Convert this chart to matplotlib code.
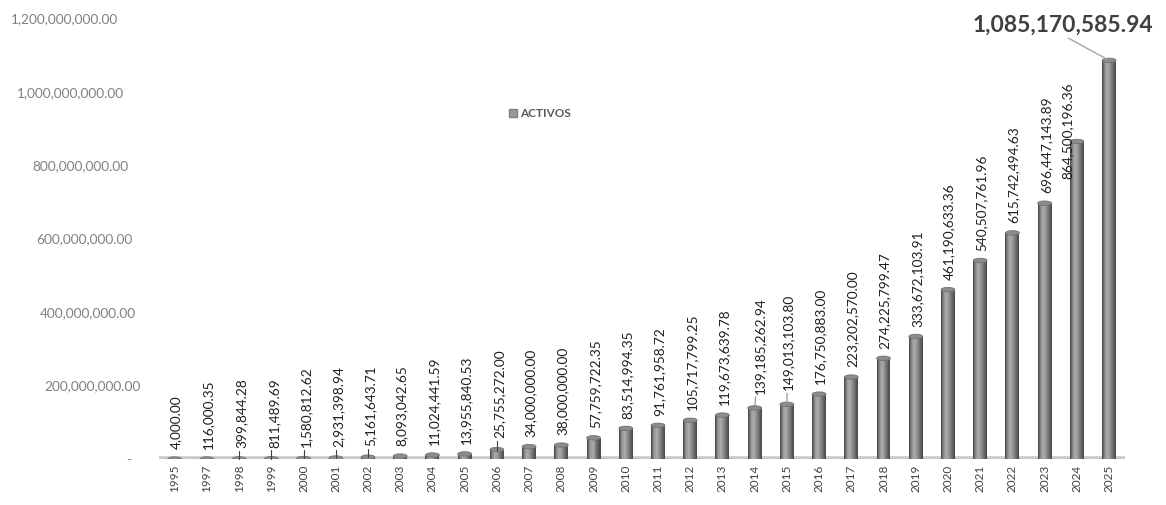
import numpy as np
import matplotlib.pyplot as plt
from matplotlib.patches import Ellipse
from matplotlib.transforms import ScaledTranslation

years = [1995, 1997, 1998, 1999, 2000, 2001, 2002, 2003, 2004, 2005,
         2006, 2007, 2008, 2009, 2010, 2011, 2012, 2013, 2014, 2015,
         2016, 2017, 2018, 2019, 2020, 2021, 2022, 2023, 2024, 2025]
activos = [4000.00, 116000.35, 399844.28, 811489.69, 1580812.62, 2931398.94,
           5161643.71, 8093042.65, 11024441.59, 13955840.53, 25755272.00,
           34000000.00, 38000000.00, 57759722.35, 83514994.35, 91761958.72,
           105717799.25, 119673639.78, 139185262.94, 149013103.80, 176750883.00,
           223202570.00, 274225799.47, 333672103.91, 461190633.36, 540507761.96,
           615742494.63, 696447143.89, 864500196.36, 1085170585.94]
serie = "ACTIVOS"
yticks = [0, 200000000, 400000000, 600000000, 800000000, 1000000000, 1200000000]

plt.rcParams['font.family'] = ['Lato', 'DejaVu Sans']

fig = plt.figure(figsize=(11.66, 5.05), dpi=100)
ax = fig.add_axes([0.136, 0.091, 0.829, 0.873])

x = np.arange(len(years))
vals = np.array(activos)
w = 0.43

# cilindros: franjas verticales con degradado
shade = [0.30, 0.42, 0.52, 0.60, 0.64, 0.66, 0.64, 0.60, 0.55, 0.50, 0.45, 0.40, 0.35, 0.30]
nstrip = len(shade)
for k in range(nstrip):
    off = -w / 2 + (k + 0.5) * w / nstrip
    ax.bar(x + off, vals, width=w / nstrip + 0.002, color=str(shade[k]), linewidth=0, zorder=3)

# tapas elipticas
cap_h = 12e6
for xi, v in zip(x, vals):
    ax.add_patch(Ellipse((xi, v), w, cap_h, facecolor='0.55', edgecolor='0.45',
                         linewidth=0.6, zorder=4))
    ax.add_patch(Ellipse((xi, 0), w, cap_h, facecolor='0.45', edgecolor='none', zorder=2))

# piso
ax.axhline(0, color='#c9c9c9', linewidth=4, zorder=1)

# etiquetas de datos
leader = {2, 3, 4, 5, 6, 10}
lab_kw = dict(textcoords='offset points', rotation=90, ha='center', va='bottom',
              fontsize=9.8, color='#1f1f1f', zorder=5)
for i, (xi, v) in enumerate(zip(x[:-1], vals[:-1])):
    txt = f"{v:,.2f}"
    dx, dy = 1, 7
    if i == 28:
        dx, dy = -7, -27
    if i in leader:
        ax.annotate(txt, (xi, v), xytext=(dx + 1, dy + 1),
                    arrowprops=dict(arrowstyle='-', color='#404040', lw=0.8,
                                    shrinkA=0, shrinkB=0,
                                    connectionstyle='angle,angleA=0,angleB=90'),
                    **lab_kw)
    elif i in (18, 19):
        ax.annotate(txt, (xi, v), xytext=(dx + 3 * (i == 18), dy + 3),
                    arrowprops=dict(arrowstyle='-', color='#8c8c8c', lw=0.8,
                                    shrinkA=0, shrinkB=0), **lab_kw)
    else:
        ax.annotate(txt, (xi, v), xytext=(dx, dy), **lab_kw)

# etiqueta del ultimo valor
ax.annotate(f"{vals[-1]:,.2f}", (x[-1], vals[-1]), xytext=(-33, 18),
            textcoords='offset points', ha='center', va='bottom',
            fontsize=16.5, fontweight='bold', color='#404040',
            arrowprops=dict(arrowstyle='-', color='#a6a6a6', lw=1,
                            shrinkA=0, shrinkB=2, relpos=(0.5, 0.0)),
            annotation_clip=False, zorder=5)

ax.set_xlim(-0.5, len(years) - 0.5)
ax.set_ylim(0, 1200000000)
ax.set_xticks(x, [str(a) for a in years], rotation=90, fontsize=8.5, color='#404040')
ax.set_yticks(yticks, ['-'] + [f"{t:,.2f}" for t in yticks[1:]], fontsize=9.8, color='#808080')
ax.tick_params(length=0)
ax.tick_params(axis='x', pad=4)
ax.tick_params(axis='y', pad=20)

# desplazamiento en perspectiva de las etiquetas del eje y
shifts = [0, 7, 4, 1, -2, -5, -9]
for lab, s in zip(ax.get_yticklabels(), shifts):
    lab.set_transform(lab.get_transform() + ScaledTranslation(s / 72, 0, fig.dpi_scale_trans))

for sp in ax.spines.values():
    sp.set_visible(False)

ax.legend([plt.Rectangle((0, 0), 1, 1, facecolor='0.6', edgecolor='0.5')], [serie],
          loc='center', bbox_to_anchor=(0.463, 0.775), bbox_transform=fig.transFigure,
          frameon=False, handlelength=0.7, handleheight=0.7,
          handletextpad=0.3, labelcolor='#595959', prop={'weight': 'bold', 'size': 8.5})

fig.savefig('out.png', dpi=100)
